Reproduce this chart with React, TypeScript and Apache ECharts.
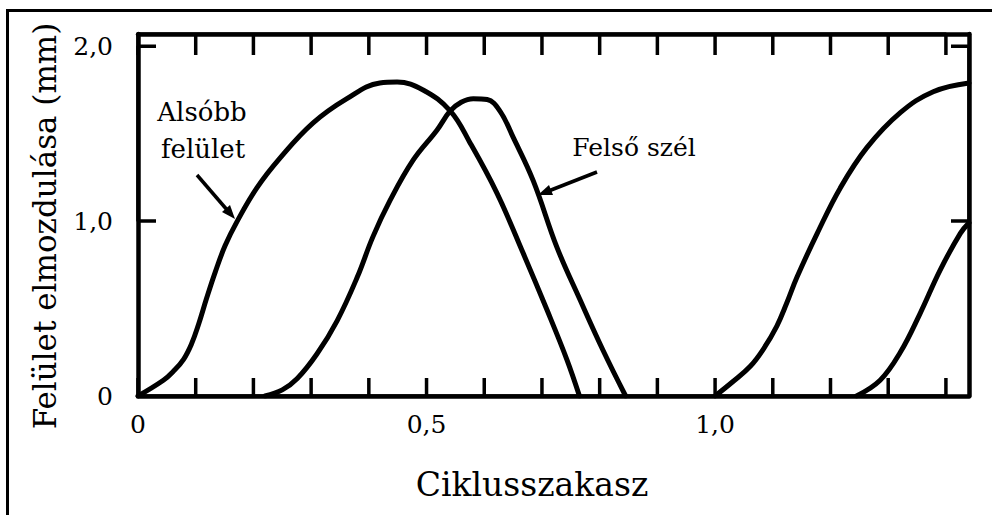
import React, { useEffect, useRef } from "react";
import * as echarts from "echarts";

// Displacement (mm) versus cycle phase, two traces repeated over 1.44 cycles.
const lowerSurfaceCycle1: [number, number][] = [
  [0, 0], [0.044, 0.09], [0.061, 0.14], [0.079, 0.21], [0.093, 0.3], [0.105, 0.41],
  [0.119, 0.56], [0.134, 0.71], [0.151, 0.86], [0.172, 1.0], [0.206, 1.19], [0.246, 1.36],
  [0.303, 1.56], [0.362, 1.7], [0.419, 1.79], [0.449, 1.795], [0.494, 1.75], [0.541, 1.63],
  [0.575, 1.45], [0.622, 1.16], [0.667, 0.82], [0.709, 0.49], [0.743, 0.21], [0.765, 0],
];
const upperEdgeCycle1: [number, number][] = [
  [0.22, 0], [0.25, 0.035], [0.276, 0.1], [0.31, 0.24], [0.345, 0.43], [0.38, 0.68],
  [0.407, 0.91], [0.437, 1.12], [0.477, 1.35], [0.518, 1.52], [0.541, 1.63], [0.56, 1.68],
  [0.581, 1.7], [0.605, 1.695], [0.627, 1.63], [0.65, 1.48], [0.685, 1.23], [0.726, 0.85],
  [0.766, 0.55], [0.806, 0.26], [0.845, 0],
];
const lowerSurfaceCycle2: [number, number][] = [
  [1.0, 0], [1.03, 0.08], [1.061, 0.17], [1.084, 0.27], [1.107, 0.4], [1.124, 0.53],
  [1.142, 0.68], [1.177, 0.93], [1.217, 1.19], [1.263, 1.42], [1.321, 1.62], [1.378, 1.74],
  [1.44, 1.79],
];
const upperEdgeCycle2: [number, number][] = [
  [1.245, 0], [1.286, 0.09], [1.321, 0.25], [1.355, 0.47], [1.39, 0.72], [1.425, 0.93],
  [1.44, 0.99],
];

const xTickValues = [0, 0.1, 0.2, 0.3, 0.4, 0.5, 0.6, 0.7, 0.8, 0.9, 1.0, 1.1, 1.2, 1.3, 1.4];
const yTickValues = [1, 2];
const xLabelValues = [0, 0.5, 1.0];
const yLabelValues = [0, 1, 2];

const X_MAX = 1.44;
const Y_MAX = 2.07;
const GRID = { left: 138, top: 34, width: 831, height: 362 };
const SERIF = "DejaVu Serif";

// Tick lengths in pixels, expressed in axis units.
const pxPerX = GRID.width / X_MAX;
const pxPerY = GRID.height / Y_MAX;
const bottomTick = 18 / pxPerY;
const topTick = 21 / pxPerY;
const sideTick = 18 / pxPerX;

// Each frame edge is traced as one polyline that runs along the edge and steps
// inward at every tick; the run along the edge sits under the axis line.
const bottomTickPath = xTickValues.flatMap((v) => [[v, 0], [v, bottomTick], [v, 0]]);
const topTickPath = xTickValues.flatMap((v) => [[v, Y_MAX], [v, Y_MAX - topTick], [v, Y_MAX]]);
const leftTickPath = yTickValues.flatMap((v) => [[0, v], [sideTick, v], [0, v]]);
const rightTickPath = yTickValues.flatMap((v) => [[X_MAX, v], [X_MAX - sideTick, v], [X_MAX, v]]);

const fmt = (v: number, shown: number[]) => {
  const hit = shown.find((s) => Math.abs(s - v) < 1e-6);
  if (hit === undefined) return "";
  return hit === 0 ? "0" : hit.toFixed(1).replace(".", ",");
};

const curve = (name: string, data: [number, number][]) => ({
  name,
  type: "line",
  data,
  showSymbol: false,
  smooth: 0.4,
  lineStyle: { color: "#000", width: 5, cap: "round", join: "round" },
  z: 3,
});

const tickPath = (name: string, data: number[][]) => ({
  name,
  type: "line",
  data,
  showSymbol: false,
  smooth: false,
  lineStyle: { color: "#000", width: 3.5, cap: "butt", join: "bevel" },
  z: 3,
});

const frameLine = () => ({ show: true, onZero: false, lineStyle: { color: "#000", width: 4.5 } });

const caption = (text: string, x: number, y: number, fontSize: number, rotation = 0) => ({
  type: "text",
  x,
  y,
  rotation,
  style: {
    text,
    fontFamily: SERIF,
    fontSize,
    fill: "#000",
    textAlign: "center",
    textVerticalAlign: "middle",
  },
});

export default function App() {
  const ref = useRef<HTMLDivElement>(null);

  useEffect(() => {
    if (!ref.current) return;
    const chart = echarts.init(ref.current, undefined, { renderer: "svg" });

    const valueAxis = (extra: object) => ({
      type: "value",
      min: 0,
      axisLine: frameLine(),
      axisTick: { show: false },
      splitLine: { show: false },
      ...extra,
    });

    chart.setOption({
      animation: false,
      backgroundColor: "#fff",
      grid: { ...GRID, containLabel: false },
      xAxis: [
        valueAxis({
          position: "bottom",
          max: X_MAX,
          interval: 0.1,
          axisLabel: {
            margin: 16,
            fontFamily: SERIF,
            fontSize: 25,
            color: "#000",
            hideOverlap: false,
            formatter: (v: number) => fmt(v, xLabelValues),
          },
        }),
        valueAxis({ position: "top", max: X_MAX, interval: 0.1, axisLabel: { show: false } }),
      ],
      yAxis: [
        valueAxis({
          position: "left",
          max: Y_MAX,
          interval: 1,
          axisLabel: {
            margin: 25,
            fontFamily: SERIF,
            fontSize: 25,
            color: "#000",
            formatter: (v: number) => fmt(v, yLabelValues),
          },
        }),
        valueAxis({ position: "right", max: Y_MAX, interval: 1, axisLabel: { show: false } }),
      ],
      series: [
        curve("Alsóbb felület", lowerSurfaceCycle1),
        curve("Felső szél", upperEdgeCycle1),
        curve("Alsóbb felület", lowerSurfaceCycle2),
        curve("Felső szél", upperEdgeCycle2),
        tickPath("bottom ticks", bottomTickPath),
        tickPath("top ticks", topTickPath),
        tickPath("left ticks", leftTickPath),
        tickPath("right ticks", rightTickPath),
      ],
      graphic: [
        {
          type: "rect",
          silent: true,
          shape: { x: 7.5, y: 10.5, width: 1200, height: 800 },
          style: { fill: "none", stroke: "#000", lineWidth: 3 },
        },
        caption("Felület elmozdulása (mm)", 45, 226, 31, Math.PI / 2),
        caption("Ciklusszakasz", 532, 484, 33),
        caption("Alsóbb", 202, 112, 26),
        caption("felület", 203, 149, 26),
        caption("Felső szél", 634, 147, 25),
        // pointer to the lower-surface trace
        {
          type: "line",
          shape: { x1: 197, y1: 175, x2: 228, y2: 211 },
          style: { stroke: "#000", lineWidth: 3.5 },
        },
        {
          type: "polygon",
          shape: { points: [[235, 219], [222, 212], [230, 205]] },
          style: { fill: "#000" },
        },
        // pointer to the upper-edge trace
        {
          type: "line",
          shape: { x1: 597, y1: 172, x2: 546, y2: 192 },
          style: { stroke: "#000", lineWidth: 3.5 },
        },
        {
          type: "polygon",
          shape: { points: [[538, 195], [549, 185], [553, 195]] },
          style: { fill: "#000" },
        },
      ],
    });

    return () => chart.dispose();
  }, []);

  return (
    <div
      ref={ref}
      style={{ position: "fixed", left: 0, top: 0, width: 992, height: 515, background: "#fff" }}
    />
  );
}
